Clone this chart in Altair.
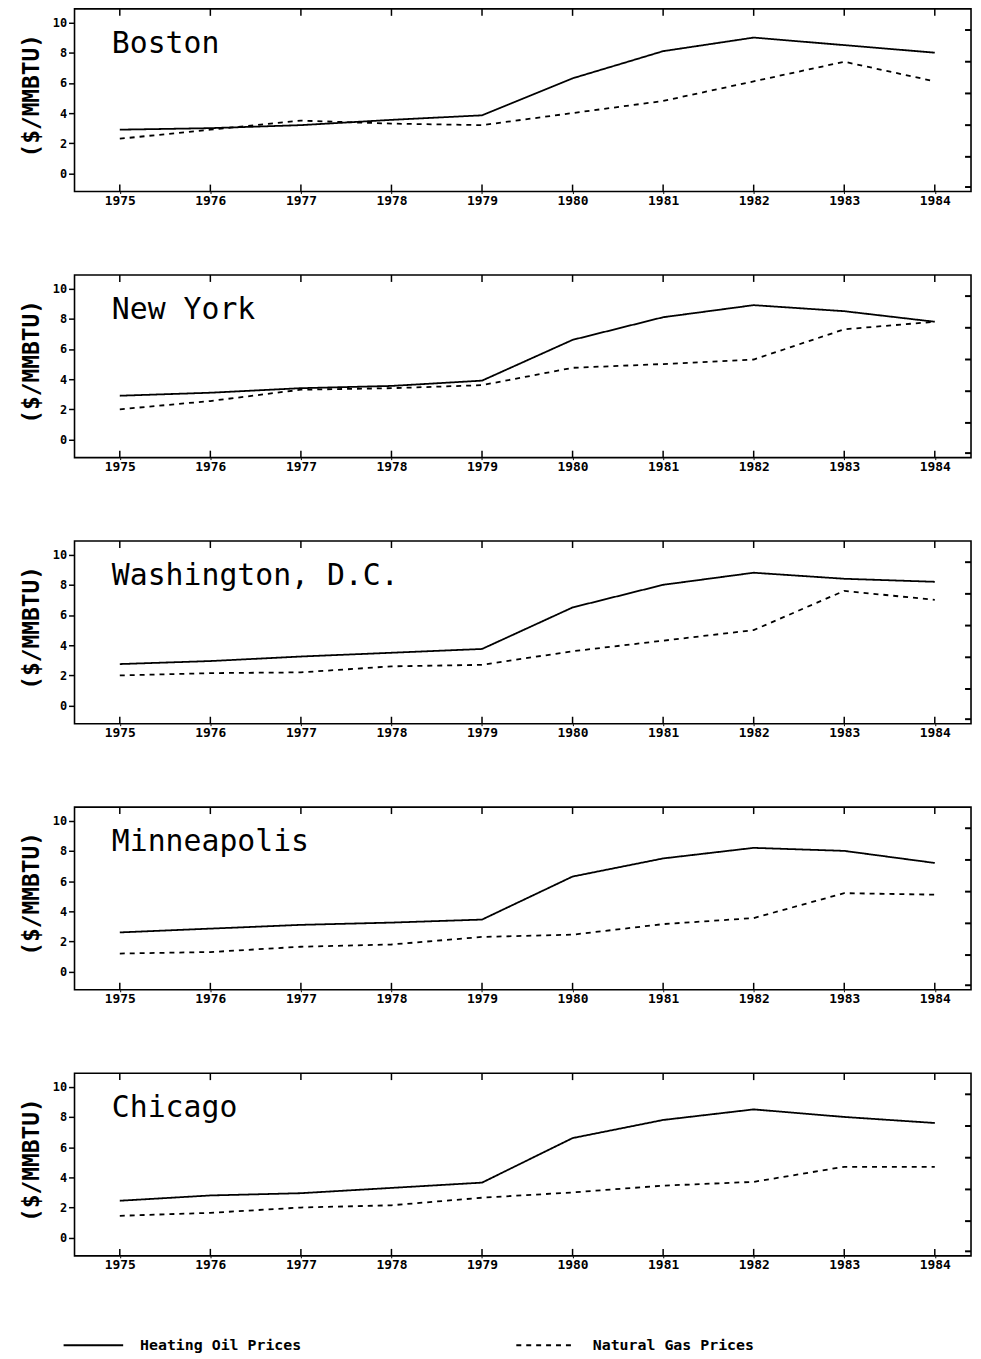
import altair as alt
import pandas as pd

years = [1975, 1976, 1977, 1978, 1979, 1980, 1981, 1982, 1983, 1984]
cities = ["Boston", "New York", "Washington, D.C.", "Minneapolis", "Chicago"]
series_names = ["Heating Oil Prices", "Natural Gas Prices"]

oil_boston = [2.9, 3.0, 3.2, 3.55, 3.85, 6.3, 8.1, 9.0, 8.5, 8.0]
gas_boston = [2.3, 2.9, 3.5, 3.3, 3.2, 4.0, 4.8, 6.1, 7.4, 6.1]
oil_newyork = [2.9, 3.1, 3.4, 3.55, 3.9, 6.6, 8.1, 8.9, 8.5, 7.8]
gas_newyork = [2.0, 2.55, 3.3, 3.4, 3.6, 4.75, 5.0, 5.3, 7.3, 7.8]
oil_washington = [2.75, 2.95, 3.25, 3.5, 3.75, 6.5, 8.0, 8.8, 8.4, 8.2]
gas_washington = [2.0, 2.15, 2.2, 2.6, 2.7, 3.6, 4.3, 5.0, 7.6, 7.0]
oil_minneapolis = [2.6, 2.85, 3.1, 3.25, 3.45, 6.3, 7.5, 8.2, 8.0, 7.2]
gas_minneapolis = [1.2, 1.3, 1.65, 1.8, 2.3, 2.45, 3.15, 3.55, 5.2, 5.1]
oil_chicago = [2.45, 2.8, 2.95, 3.3, 3.65, 6.6, 7.8, 8.5, 8.0, 7.6]
gas_chicago = [1.45, 1.65, 2.0, 2.15, 2.65, 3.0, 3.45, 3.7, 4.7, 4.7]

y_ticks = [0, 2, 4, 6, 8, 10]
right_ticks = [9.5, 7.4, 5.3, 3.2, 1.1, -0.9]

oil = {"Boston": oil_boston, "New York": oil_newyork, "Washington, D.C.": oil_washington,
       "Minneapolis": oil_minneapolis, "Chicago": oil_chicago}
gas = {"Boston": gas_boston, "New York": gas_newyork, "Washington, D.C.": gas_washington,
       "Minneapolis": gas_minneapolis, "Chicago": gas_chicago}

rows = []
for c in cities:
    for y, v in zip(years, oil[c]):
        rows.append({"city": c, "year": y, "series": series_names[0], "price": v})
    for y, v in zip(years, gas[c]):
        rows.append({"city": c, "year": y, "series": series_names[1], "price": v})
df = pd.DataFrame(rows)
years_df = pd.DataFrame({"year": years})
rt_df = pd.DataFrame({"v": right_ticks})

W, H = 903, 184
FONT = "DejaVu Sans Mono"
xscale = alt.Scale(domain=[1974.5, 1984.4], nice=False, zero=False)
yscale = alt.Scale(domain=[-1.2, 10.9], nice=False, zero=False)

xaxis = alt.Axis(values=years, format="d", title=None, grid=False,
                 tickSize=2, tickColor="black", labelFont=FONT,
                 labelFontSize=13, labelFontWeight="bold",
                 labelColor="black", labelPadding=1, domain=False,
                 labelOverlap=False)
yaxis = alt.Axis(values=y_ticks, title="($/MMBTU)", grid=False,
                 tickSize=6, tickColor="black", tickWidth=1.5,
                 labelFont=FONT, labelFontSize=12, labelFontWeight="bold",
                 labelColor="black", labelOverlap=False, labelFlush=False,
                 labelBound=False, titleFont=FONT, titleFontSize=23,
                 titleFontWeight="bold", titleColor="black",
                 titlePadding=9, titleY=87, domain=False)


def panel(city):
    d = df[df.city == city]
    lines = alt.Chart(d).mark_line(color="black", strokeWidth=1.8).encode(
        x=alt.X("year:Q", scale=xscale, axis=xaxis),
        y=alt.Y("price:Q", scale=yscale, axis=yaxis),
        strokeDash=alt.StrokeDash(
            "series:N",
            scale=alt.Scale(domain=series_names, range=[[1, 0], [5, 5]]),
            legend=alt.Legend(title=None, orient="none", legendX=-12, legendY=1315,
                              direction="horizontal", symbolType="stroke",
                              symbolSize=3600, symbolStrokeWidth=2,
                              symbolStrokeColor="black", labelFont=FONT,
                              labelFontSize=15, labelFontWeight="bold",
                              labelColor="black", labelOffset=16,
                              columnPadding=212, labelLimit=400)),
    )
    title = alt.Chart(pd.DataFrame({"city": [city]})).mark_text(
        align="left", baseline="middle", font=FONT, fontSize=30, color="black", dx=-8
    ).encode(x=alt.XDatum(1975, type="quantitative", scale=xscale, axis=xaxis),
             y=alt.YDatum(8.6, type="quantitative", scale=yscale, axis=yaxis),
             text="city:N")
    top_ticks = alt.Chart(years_df).mark_rule(color="black", strokeWidth=1.5).encode(
        x=alt.X("year:Q", scale=xscale, axis=xaxis), y=alt.value(0), y2=alt.value(7))
    bot_ticks = alt.Chart(years_df).mark_rule(color="black", strokeWidth=1.5).encode(
        x=alt.X("year:Q", scale=xscale, axis=xaxis), y=alt.value(H - 7), y2=alt.value(H))
    right = alt.Chart(rt_df).mark_rule(color="black", strokeWidth=2).encode(
        y=alt.Y("v:Q", scale=yscale, axis=yaxis), x=alt.value(W - 6), x2=alt.value(W))
    return alt.layer(lines, title, top_ticks, bot_ticks, right).properties(width=W, height=H)


chart = alt.vconcat(*[panel(c) for c in cities], spacing=65).properties(
    padding={"left": 11, "top": -6, "right": 0, "bottom": 0},
    background="white",
).configure_view(stroke="black", strokeWidth=1.6)

chart.save("out.html", embed_options={"renderer": "svg", "actions": False})
